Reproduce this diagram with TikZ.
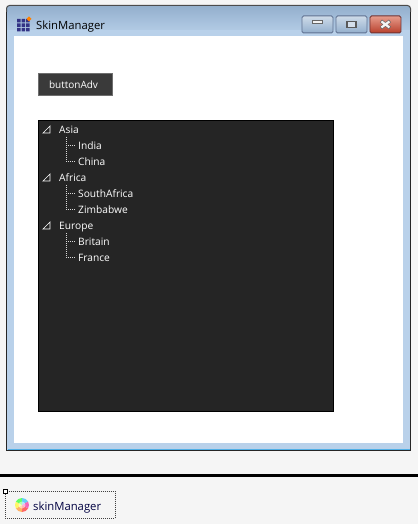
\documentclass[tikz,border=0pt]{standalone}
\usepackage{fontspec}
\setmainfont{Open Sans}
\usetikzlibrary{shapes.geometric}

\definecolor{pagegray}{HTML}{F5F5F5}
\definecolor{frametop}{HTML}{93AFCD}
\definecolor{framemid}{HTML}{B9D1EA}
\definecolor{treedark}{HTML}{252525}
\definecolor{btndark}{HTML}{3A3A3A}
\definecolor{btnedge}{HTML}{6E6E6E}
\definecolor{capedge}{HTML}{5F7191}
\definecolor{closetop}{HTML}{E79C8C}
\definecolor{closelow}{HTML}{B8402C}

\tikzset{
  lbl/.style={anchor=west, inner sep=0, text height=12pt, text depth=2.5pt, font=\fontsize{10.2}{12}\selectfont, text=white},
  capbtn/.style={draw=capedge, line width=0.9pt, rounded corners=1.5pt, minimum width=31pt, minimum height=17pt, inner sep=0, anchor=north west, top color=#1!45!white, bottom color=#1},
  branch/.style={white!85!black, dash pattern=on 1pt off 1pt, line width=0.8pt}
}

\begin{document}
\begin{tikzpicture}[x=1pt, y=-1pt]
\useasboundingbox (0,0) rectangle (418,524);
\fill[pagegray] (0,0) rectangle (418,524);

% window frame
\fill[framemid] (6.5,450.5) rectangle (410.5,36);
\shade[top color=frametop, bottom color=framemid, rounded corners=3pt] (6.5,5.5) -- (410.5,5.5) -- (410.5,36) -- (6.5,36) -- cycle;
\fill[framemid] (6.5,30) rectangle (410.5,37);
\draw[cyan!80!blue!70!white, line width=0.8pt] (7.5,449) -- (409.5,449);
\draw[black!85, line width=1pt] (6.5,12) -- (6.5,450.5) -- (410.5,450.5) -- (410.5,12);
\draw[black!70, line width=1pt, rounded corners=3pt] (6.5,12) -- (6.5,5.5) -- (410.5,5.5) -- (410.5,12);
\fill[white] (14,36) rectangle (403,443);

% title bar
\fill[blue!40!black!80] (17,19) rectangle (20.5,22.5) (21.5,19) rectangle (25,22.5) (26,19) rectangle (29.5,22.5);
\fill[blue!40!black!80] (17,23.5) rectangle (20.5,27) (21.5,23.5) rectangle (25,27) (26,23.5) rectangle (29.5,27);
\fill[blue!40!black!80] (17,28) rectangle (20.5,31.5) (21.5,28) rectangle (25,31.5) (26,28) rectangle (29.5,31.5);
\fill[orange] (29,16.5) -- (31.5,19) -- (29,21.5) -- (26.5,19) -- cycle;
\node[lbl, text=black, font=\fontsize{11.3}{12}\selectfont] (title) at (36,25) {SkinManager};

\node[capbtn=frametop] (minbtn) at (301.5,15.5) {};
\node[capbtn=frametop] (maxbtn) at (335.5,15.5) {};
\node[capbtn=closelow, top color=closetop, draw=red!30!black!80, minimum width=31pt] (closebtn) at (369.5,15.5) {};
\node[draw=black!60, fill=white!90!gray, minimum width=10pt, minimum height=3pt, inner sep=0] (minicon) at ([yshift=3pt]minbtn.center) {};
\node[draw=black!65, fill=frametop!40!white, line width=1.3pt, minimum width=9pt, minimum height=6pt, inner sep=0] (maxicon) at (maxbtn.center) {};
\coordinate (closemid) at (closebtn.center);
\draw[black!60, line width=3.4pt] ([shift={(-4.5,-3.5)}]closemid) -- ([shift={(4.5,3.5)}]closemid) ([shift={(-4.5,3.5)}]closemid) -- ([shift={(4.5,-3.5)}]closemid);
\draw[white!92!gray, line width=2.2pt] ([shift={(-4,-3)}]closemid) -- ([shift={(4,3)}]closemid) ([shift={(-4,3)}]closemid) -- ([shift={(4,-3)}]closemid);

% controls
\node[draw=btnedge, fill=btndark, line width=1pt, text=white, minimum width=74pt, minimum height=22pt, inner sep=0, font=\fontsize{10}{12}\selectfont] (button) at (75.5,85) {\hspace*{-4pt}buttonAdv};
\node[draw=black, fill=treedark, line width=1pt, minimum width=295pt, minimum height=291pt, inner sep=0] (treebox) at (186,266) {};

% tree
\node[lbl] (asia) at (59,129) {Asia};
\node[lbl] (india) at (78,145) {India};
\node[lbl] (china) at (78,161) {China};
\node[lbl] (africa) at (59,177) {Africa};
\node[lbl] (southafrica) at (78,193) {SouthAfrica};
\node[lbl] (zimbabwe) at (78,209) {Zimbabwe};
\node[lbl] (europe) at (59,225) {Europe};
\node[lbl] (britain) at (78,241) {Britain};
\node[lbl] (france) at (78,257) {France};

\coordinate (asiatop) at (66,137);
\coordinate (africatop) at (66,185);
\coordinate (europetop) at (66,233);
\draw[branch] (asiatop) |- ([xshift=-2pt]china.west);
\draw[branch] (india.west -| asiatop) -- ([xshift=-2pt]india.west);
\draw[branch] (africatop) |- ([xshift=-2pt]zimbabwe.west);
\draw[branch] (southafrica.west -| africatop) -- ([xshift=-2pt]southafrica.west);
\draw[branch] (europetop) |- ([xshift=-2pt]france.west);
\draw[branch] (britain.west -| europetop) -- ([xshift=-2pt]britain.west);

\foreach \rowy in {133,181,229} {
  \draw[white, line width=0.7pt] (43,\rowy) -- (50,\rowy) -- (50,\rowy-7) -- cycle;
}

% component tray
\draw[black, line width=3pt] (0,475) -- (418,475);
\node[draw=black!75, dash pattern=on 1pt off 1pt, line width=0.8pt, minimum width=110pt, minimum height=27pt, inner sep=0, anchor=north west] (tray) at (5,491) {};
\node[draw=black, fill=white, line width=1pt, minimum size=4pt, inner sep=0] (handle) at (tray.north west) {};
\coordinate (wheel) at (22,505);
\foreach \ang/\col in {30/red,90/orange,150/yellow,210/green,270/cyan,330/magenta} {
  \fill[\col!60!white] (wheel) -- ++(\ang:7) arc[start angle=\ang, end angle=\ang+60, radius=7] -- cycle;
}
\fill[white, opacity=0.5] (wheel) circle (3.5);
\node[lbl, text=black!75!blue, font=\fontsize{11.3}{12}\selectfont] (skin) at (33,506) {skinManager};
\end{tikzpicture}
\end{document}
